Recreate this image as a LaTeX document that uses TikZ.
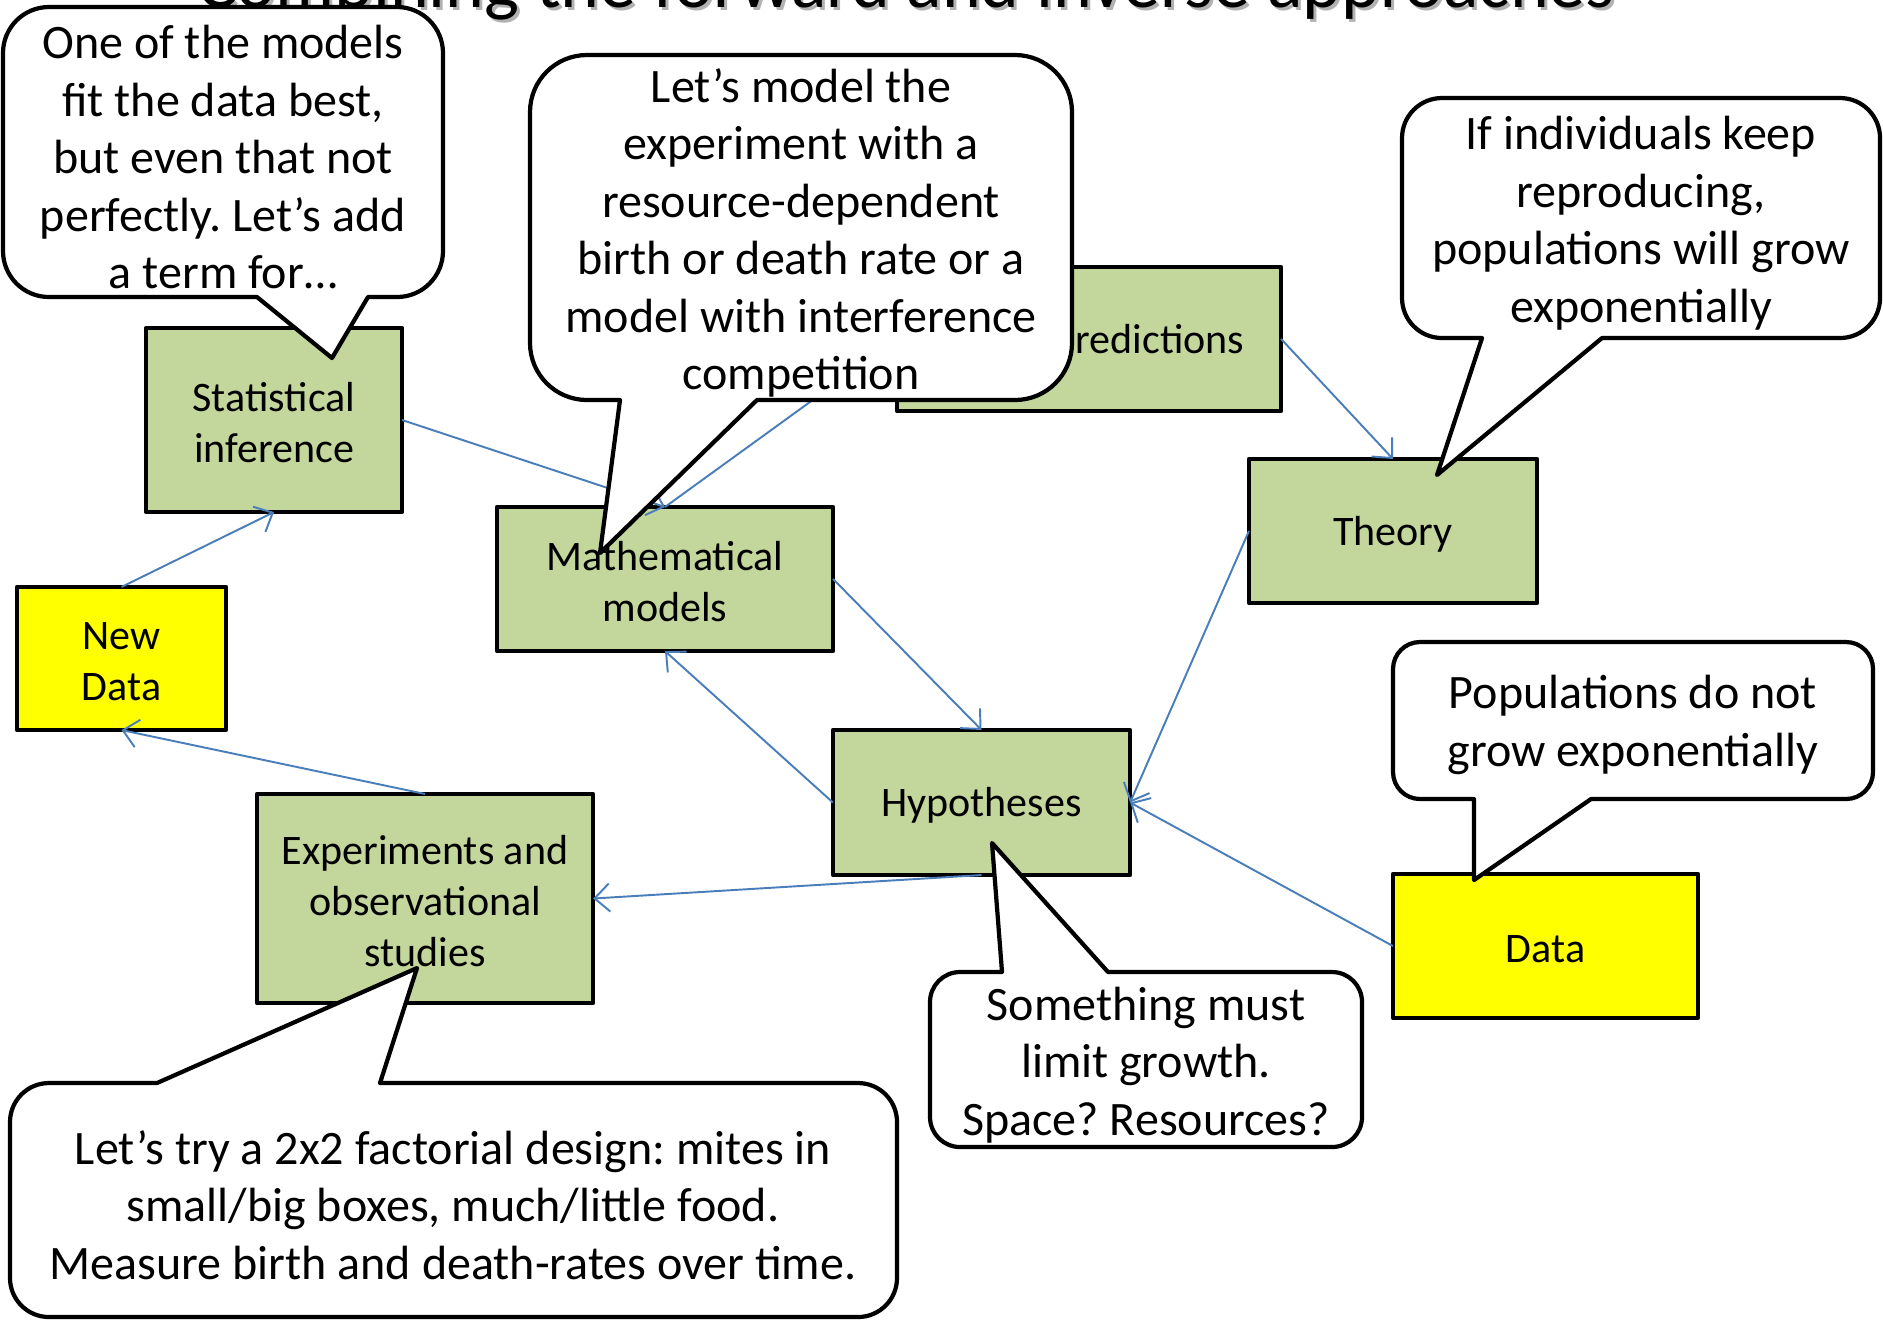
\documentclass[tikz,border=0pt]{standalone}
\usepackage{fontspec}
\setmainfont{Carlito}
\usetikzlibrary{arrows.meta}
\frenchspacing
\definecolor{boxgreen}{HTML}{C3D69B}
\definecolor{boxyellow}{HTML}{FFFF00}
\definecolor{arrowblue}{HTML}{4A7EBB}
\newcommand{\boxfont}{\fontsize{11.95pt}{14.5pt}\selectfont}
\newcommand{\callfont}{\fontsize{13.66pt}{16.35pt}\selectfont}
\newcommand{\titlefont}{\fontsize{21pt}{25pt}\selectfont}
% callout with tail on the bottom edge: x1,y1,x2,y2,bx1,bx2,tipx,tipy,r
\newcommand{\calloutdown}[9]{%
  \filldraw[callout] (#1+#9,#2) -- (#3-#9,#2) arc[start angle=270,end angle=360,radius=#9]
   -- (#3,#4-#9) arc[start angle=0,end angle=90,radius=#9]
   -- (#6,#4) -- (#7,#8) -- (#5,#4)
   -- (#1+#9,#4) arc[start angle=90,end angle=180,radius=#9]
   -- (#1,#2+#9) arc[start angle=180,end angle=270,radius=#9] -- cycle;}
% callout with tail on the top edge
\newcommand{\calloutup}[9]{%
  \filldraw[callout] (#1+#9,#2) -- (#5,#2) -- (#7,#8) -- (#6,#2)
   -- (#3-#9,#2) arc[start angle=270,end angle=360,radius=#9]
   -- (#3,#4-#9) arc[start angle=0,end angle=90,radius=#9]
   -- (#1+#9,#4) arc[start angle=90,end angle=180,radius=#9]
   -- (#1,#2+#9) arc[start angle=180,end angle=270,radius=#9] -- cycle;}
\tikzset{
  gbox/.style={draw=black, line width=1.2pt, line join=round, fill=boxgreen,
    align=center, font=\boxfont, inner sep=0pt, outer sep=0pt},
  ybox/.style={gbox, fill=boxyellow},
  conn/.style={draw=arrowblue, line width=0.55pt,
    -{Straight Barb[length=0.15cm,width=0.28cm]}},
  callout/.style={draw=black, fill=white, line width=1.2pt, line join=round},
  calltext/.style={align=center, font=\callfont, inner sep=0pt, yshift=-0.05cm},
  boxtext/.style={align=center, font=\boxfont, inner sep=0pt, yshift=-0.03cm},
}
\begin{document}
\begin{tikzpicture}[x=0.01cm, y=-0.01cm]
\useasboundingbox (0,0) rectangle (1883,1320);
\fill[white] (0,0) rectangle (1883,1320);
% title (mostly outside the page)
\node[anchor=base, font=\titlefont, text=black!30, inner sep=0pt] (titleshadow) at (909,10) {Combining the forward and inverse approaches};
\node[anchor=base, font=\titlefont, inner sep=0pt] (title) at (906,7) {Combining the forward and inverse approaches};
% boxes
\node[gbox, minimum width=2.56cm, minimum height=1.84cm] (stat) at (274,420) {};
\node[gbox, minimum width=3.36cm, minimum height=1.44cm] (math) at (665,579) {};
\node[gbox, minimum width=3.84cm, minimum height=1.44cm] (pred) at (1089,339) {};
\node[gbox, minimum width=2.88cm, minimum height=1.44cm] (theory) at (1393,531) {};
\node[ybox, minimum width=2.09cm, minimum height=1.43cm] (newdata) at (121.5,658.5) {};
\node[gbox, minimum width=2.97cm, minimum height=1.45cm] (hyp) at (981.5,802.5) {};
\node[gbox, minimum width=3.36cm, minimum height=2.09cm] (exp) at (425,898.5) {};
\node[ybox, minimum width=3.05cm, minimum height=1.44cm] (data) at (1545.5,946) {};
\node[boxtext] (statt) at (stat.center) {Statistical\\inference};
\node[boxtext] (matht) at (math.center) {Mathematical\\models};
\node[boxtext] (predt) at (pred.center) {Model predictions};
\node[boxtext] (theoryt) at (theory.center) {Theory};
\node[boxtext] (newdatat) at (newdata.center) {New\\Data};
\node[boxtext] (hypt) at (hyp.center) {Hypotheses};
\node[boxtext] (expt) at (exp.center) {Experiments and\\observational\\studies};
\node[boxtext] (datat) at (data.center) {Data};
% connectors
\draw[conn] (newdata.north) -- (stat.south);
\draw[conn] (stat.east) -- (math.north);
\draw[conn] (math.north) -- (pred.west);
\draw[conn] (pred.east) -- (theory.north);
\draw[conn] (theory.west) -- (hyp.east);
\draw[conn] (data.west) -- (hyp.east);
\draw[conn] (math.east) -- (hyp.north);
\draw[conn] (hyp.west) -- (math.south);
\draw[conn] (hyp.south) -- (exp.east);
\draw[conn] (exp.north) -- (newdata.south);
% callouts
\calloutdown{3}{7}{443}{297}{257}{368}{332}{358}{46}
\node[calltext] (c1) at (223,152) {One of the models\\fit the data best,\\but even that not\\perfectly. Let’s add\\a term for…};
\calloutdown{530}{55}{1072}{400}{620}{757}{600}{553}{57}
\node[calltext] (c2) at (801,228) {Let’s model the\\experiment with a\\resource-dependent\\birth or death rate or a\\model with interference\\competition};
\calloutdown{1402}{98}{1880}{338}{1482}{1602}{1437}{475}{40}
\node[calltext] (c3) at (1641,218) {If individuals keep\\reproducing,\\populations will grow\\exponentially};
\calloutdown{1393}{642}{1873}{799}{1474}{1591}{1474}{880}{27}
\node[calltext] (c4) at (1633,720) {Populations do not\\grow exponentially};
\calloutup{930}{972}{1362}{1147}{1002}{1108}{992}{843}{30}
\node[calltext] (c5) at (1146,1060) {Something must\\limit growth.\\Space? Resources?};
\calloutup{10}{1083}{897}{1317}{157}{380}{417}{968}{39}
\node[calltext] (c6) at (453,1200) {Let’s try a 2x2 factorial design: mites in\\small/big boxes, much/little food.\\Measure birth and death-rates over time.};
\end{tikzpicture}
\end{document}
